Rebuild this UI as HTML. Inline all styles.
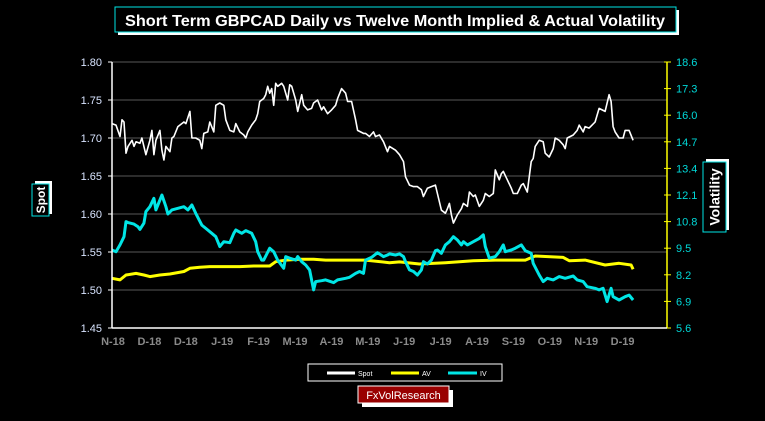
<!DOCTYPE html>
<html><head><meta charset="utf-8">
<style>
html,body{margin:0;padding:0;background:#000;}
body{width:765px;height:421px;overflow:hidden;position:relative;font-family:"Liberation Sans",Arial,sans-serif;}
svg{position:absolute;left:0;top:0;}
</style></head>
<body>
<svg id="chart" width="765" height="421" viewBox="0 0 765 421" xmlns="http://www.w3.org/2000/svg">
  <g>
    <rect x="118" y="10" width="561" height="25" fill="#fff"/>
    <rect x="115" y="7" width="561" height="25" fill="#000" stroke="#00e5e5" stroke-width="1"/>
    <text x="395" y="26" text-anchor="middle" fill="#fff" font-size="16" font-weight="bold" textLength="540" lengthAdjust="spacingAndGlyphs">Short Term GBPCAD Daily vs Twelve Month Implied &amp; Actual Volatility</text>
  </g>
  <g id="grid"></g>
  <g id="series"></g>
  <g id="axes"></g>
  <g>
    <rect x="35" y="181" width="17" height="33" fill="#fff"/>
    <rect x="32" y="184" width="17" height="32" fill="#000" stroke="#00e5e5"/>
    <text transform="translate(45,200) rotate(-90)" text-anchor="middle" fill="#fff" font-size="12" font-weight="bold">Spot</text>
  </g>
  <g>
    <rect x="706" y="159" width="23" height="71" fill="#fff"/>
    <rect x="703" y="162" width="23" height="70" fill="#000" stroke="#00e5e5"/>
    <text transform="translate(719.5,197) rotate(-90)" text-anchor="middle" fill="#fff" font-size="14" font-weight="bold">Volatility</text>
  </g>
  <g>
    <rect x="308" y="364" width="194" height="17" fill="#000" stroke="#fff" stroke-width="1"/>
    <g>
      <line x1="327" y1="373" x2="355" y2="373" stroke="#fff" stroke-width="3"/>
      <text x="358" y="376" fill="#fff" font-size="7">Spot</text>
    </g>
    <g>
      <line x1="391" y1="373" x2="419" y2="373" stroke="#ffff00" stroke-width="3"/>
      <text x="422" y="376" fill="#fff" font-size="7">AV</text>
    </g>
    <g>
      <line x1="448" y1="373" x2="477" y2="373" stroke="#00e5e5" stroke-width="3"/>
      <text x="480" y="376" fill="#fff" font-size="7">IV</text>
    </g>
  </g>
  <g>
    <rect x="362" y="390" width="91" height="17" fill="#fff"/>
    <rect x="358" y="386" width="91" height="17" fill="#990000" stroke="#fff"/>
    <text x="403.5" y="399" text-anchor="middle" fill="#fff" font-size="11">FxVolResearch</text>
  </g>
</svg>
<script>
const spotDays=[0,2,4,5,6,7,8,10,11,12,14,15,16,17,19,20,21,22,24,25,26,27,29,30,31,33,36,37,39,40,42,44,45,46,48,49,51,52,54,56,57,59,61,62,64,66,67,68,70,72,73,74,76,77,78,79,80,81,82,83,85,86,88,89,90,92,93,95,96,98,100,101,103,105,106,108,110,112,113,115,117,118,120,122,123,126,127,129,131,132,134,136,138,139,142,144,146,147,149,151,153,155,156,158,160,162,163,165,167,168,169,170,171,173,175,176,178,179,181,182,184,186,187,189,191,192,194,195,196,198,200,201,203,205,206,208,210,211,212,214,216,217,219,221,222,224,226,227,228,231,233,234,236,237,239,242,244,247,249,250,251,252,254,256,257,259,261];
const spotValues=[1.719,1.717,1.702,1.724,1.721,1.680,1.689,1.697,1.689,1.695,1.693,1.700,1.689,1.678,1.697,1.710,1.678,1.697,1.710,1.684,1.671,1.689,1.682,1.700,1.702,1.715,1.721,1.719,1.735,1.700,1.700,1.697,1.686,1.706,1.708,1.721,1.708,1.743,1.746,1.743,1.724,1.710,1.708,1.719,1.708,1.704,1.700,1.708,1.717,1.724,1.732,1.748,1.752,1.757,1.768,1.759,1.765,1.743,1.772,1.768,1.772,1.768,1.750,1.770,1.768,1.750,1.735,1.757,1.743,1.737,1.739,1.746,1.750,1.737,1.741,1.732,1.737,1.743,1.752,1.765,1.759,1.748,1.748,1.724,1.710,1.706,1.706,1.702,1.708,1.702,1.704,1.695,1.682,1.689,1.684,1.678,1.669,1.649,1.638,1.636,1.636,1.632,1.623,1.634,1.636,1.638,1.627,1.605,1.601,1.607,1.614,1.599,1.588,1.599,1.607,1.614,1.610,1.629,1.623,1.625,1.610,1.618,1.627,1.623,1.627,1.658,1.645,1.653,1.656,1.645,1.634,1.627,1.627,1.638,1.640,1.629,1.669,1.673,1.689,1.697,1.695,1.680,1.675,1.686,1.700,1.697,1.691,1.686,1.700,1.704,1.710,1.717,1.708,1.715,1.713,1.721,1.739,1.735,1.757,1.748,1.715,1.708,1.700,1.700,1.710,1.710,1.697];
const ivDays=[0,2,4,6,7,8,11,13,14,16,17,19,21,22,23,25,27,28,30,33,36,38,40,42,45,47,50,52,54,56,59,61,62,65,67,70,72,73,75,76,79,81,83,86,87,89,92,93,95,97,99,101,102,105,107,111,113,117,119,122,124,126,127,130,133,136,138,139,142,144,146,147,149,151,153,155,156,158,160,162,163,165,167,169,171,173,175,176,178,181,184,186,187,189,192,194,196,197,200,202,205,207,210,211,214,216,218,221,224,227,231,233,236,238,242,244,246,248,250,251,254,257,259,261];
const ivValues=[9.41,9.33,9.66,10.06,10.80,10.75,10.68,10.55,10.42,10.72,11.29,11.53,11.94,11.37,11.61,12.10,11.53,11.17,11.37,11.45,11.53,11.37,11.61,11.20,10.63,10.47,10.23,10.06,9.58,9.82,9.77,10.23,10.39,10.23,10.36,10.23,9.82,9.33,8.92,8.92,9.50,9.33,8.92,8.52,9.09,9.01,8.92,9.09,8.84,8.68,8.44,7.46,7.87,7.91,7.95,7.82,7.95,8.03,8.08,8.27,8.36,8.27,8.92,9.05,9.28,9.09,9.17,9.22,9.17,9.22,9.09,8.84,8.44,8.36,8.19,8.44,8.84,8.73,8.92,9.38,9.41,9.25,9.66,9.82,10.06,9.90,9.66,9.82,9.66,9.82,9.98,10.15,9.58,9.01,9.09,9.33,9.66,9.33,9.41,9.50,9.66,9.38,9.25,8.76,8.19,7.87,8.03,7.95,8.11,8.03,8.14,7.95,7.87,7.62,7.54,7.46,7.54,6.89,7.54,7.13,6.97,7.13,7.21,6.97];
const avDays=[0,4,7,12,16,19,24,29,36,39,44,49,57,64,71,79,82,87,94,101,107,117,127,139,144,154,167,181,192,207,212,226,229,237,247,254,260,261];
const avValues=[8.03,7.95,8.19,8.27,8.19,8.11,8.19,8.24,8.36,8.52,8.57,8.60,8.60,8.60,8.63,8.63,8.84,8.92,8.96,8.96,8.92,8.92,8.92,8.79,8.83,8.73,8.79,8.89,8.92,8.92,9.12,9.05,8.89,8.92,8.68,8.76,8.68,8.47];
const leftTicks=["1.45","1.50","1.55","1.60","1.65","1.70","1.75","1.80"];
const rightTicks=["5.6","6.9","8.2","9.5","10.8","12.1","13.4","14.7","16.0","17.3","18.6"];
const xLabels=["N-18","D-18","D-18","J-19","F-19","M-19","A-19","M-19","J-19","J-19","A-19","S-19","O-19","N-19","D-19"];

const NS="http://www.w3.org/2000/svg";
const PL=112,PR=667,PT=62,PB=328,DAYMAX=278;
const xS=d=>PL+d*(PR-PL)/DAYMAX;
const yL=v=>PB-(v-1.45)/(1.80-1.45)*(PB-PT);
const yR=v=>PB-(v-5.6)/(18.6-5.6)*(PB-PT);
function mk(tag,attrs,parent){const e=document.createElementNS(NS,tag);for(const k in attrs)e.setAttribute(k,attrs[k]);parent.appendChild(e);return e;}
const grid=document.getElementById('grid'),axes=document.getElementById('axes'),series=document.getElementById('series');

leftTicks.forEach(t=>{
  const y=yL(parseFloat(t));
  if(parseFloat(t)>1.45){const g=mk('line',{x1:PL,x2:PR,y1:y,y2:y,stroke:'#585858','stroke-width':1},grid);
  
  }
  mk('line',{x1:PL-4,x2:PL,y1:y,y2:y,stroke:'#fff'},axes);
  const tx=mk('text',{x:PL-10,y:y+4,'text-anchor':'end',fill:'#d8e4ff','font-size':11},axes);
  tx.textContent=t;
  
  
});
rightTicks.forEach(t=>{
  const y=yR(parseFloat(t));
  mk('line',{x1:PR-3,x2:PR+4,y1:y,y2:y,stroke:'#ffff00'},axes);
  const tx=mk('text',{x:PR+9,y:y+4,fill:'#00d8d8','font-size':11},axes);
  tx.textContent=t;
  
  
});
xLabels.forEach((t,i)=>{
  const x=113+i*36.4;
  const tx=mk('text',{x:x,y:345,'text-anchor':'middle',fill:'#8a8a8a','font-size':11,'font-weight':'bold'},axes);
  tx.textContent=t;
  
  
});
const la=mk('line',{x1:PL,x2:PL,y1:PT,y2:PB,stroke:'#fff','stroke-width':1.5},axes);


const ra=mk('line',{x1:PR,x2:PR,y1:PT,y2:PB,stroke:'#ffff00','stroke-width':1.5},axes);


const ba=mk('line',{x1:PL,x2:PR,y1:PB,y2:PB,stroke:'#fff','stroke-width':1.5},axes);



function poly(days,vals,yf,color,w,name){
  const pts=days.map((d,i)=>xS(d).toFixed(1)+','+yf(vals[i]).toFixed(1)).join(' ');
  const p=mk('polyline',{points:pts,fill:'none',stroke:color,'stroke-width':w,'stroke-linejoin':'round'},series);
  
  
}
poly(avDays,avValues,yR,'#ffff00',3,'av-line');
poly(ivDays,ivValues,yR,'#00e5e5',3,'iv-line');
poly(spotDays,spotValues,yL,'#ffffff',1.6,'spot-line');
</script>
</body></html>
